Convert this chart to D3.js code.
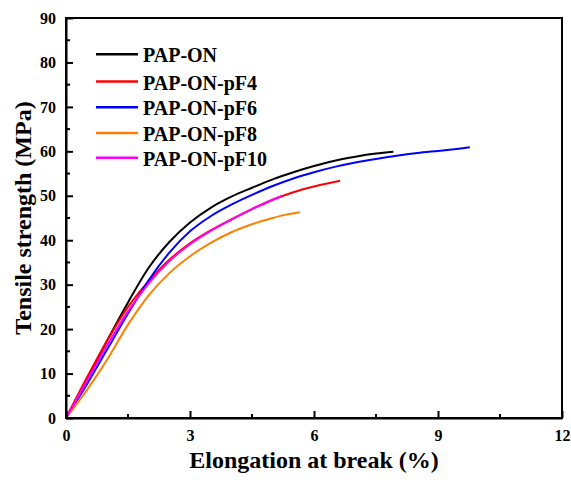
<!DOCTYPE html>
<html>
<head>
<meta charset="utf-8">
<script src="https://cdn.jsdelivr.net/npm/d3@7"></script>
<style>
  body { margin: 0; background: #fff; }
  text { font-family: "Liberation Serif", "Times New Roman", serif; font-weight: bold; fill: #000; }
</style>
</head>
<body>
<svg id="chart" width="571" height="482"></svg>
<script>
// series names and colours
var seriesNames = ["PAP-ON", "PAP-ON-pF4", "PAP-ON-pF6", "PAP-ON-pF8", "PAP-ON-pF10"];
var seriesColors = ["#000000", "#ff0000", "#0000ff", "#ff8000", "#ff00ff"];

// elongation (%) / strength (MPa)
var papOnX = [0, 0.5, 1.0, 1.5, 2.0, 2.5, 3.0, 3.5, 4.0, 4.5, 5.0, 5.5, 6.0, 6.5, 7.0, 7.5, 7.92];
var papOnY = [0, 8.5, 17.5, 26, 33.8, 39.6, 44, 47.3, 49.8, 51.8, 53.7, 55.3, 56.7, 57.9, 58.8, 59.5, 59.9];

var pF4X = [0, 0.5, 1.0, 1.5, 2.0, 2.5, 3.0, 3.5, 4.0, 4.5, 5.0, 5.5, 6.0, 6.63];
var pF4Y = [0, 9, 17.5, 25, 30.8, 35.6, 39.3, 42.2, 44.7, 47, 49.1, 50.8, 52.1, 53.4];

var pF6X = [0, 0.5, 1.0, 1.5, 2.0, 2.5, 3.0, 3.5, 4.0, 4.5, 5.0, 5.5, 6.0, 6.5, 7.0, 7.5, 8.0, 8.5, 9.0, 9.5, 9.77];
var pF6Y = [0, 7.5, 15.5, 23.5, 31, 37.2, 42, 45.4, 48, 50.2, 52.2, 53.9, 55.3, 56.5, 57.5, 58.3, 59, 59.6, 60.1, 60.6, 60.9];

var pF8X = [0, 0.5, 1.0, 1.5, 2.0, 2.5, 3.0, 3.5, 4.0, 4.5, 5.0, 5.3, 5.66];
var pF8Y = [0, 6.2, 13.2, 21, 27.6, 32.6, 36.4, 39.4, 41.8, 43.6, 45, 45.7, 46.3];

var pF10X = [0, 0.5, 1.0, 1.5, 2.0, 2.5, 3.0, 3.5, 4.0, 4.5, 5.0, 5.2];
var pF10Y = [0, 8.2, 16.4, 24, 30.3, 35.3, 39.1, 42.1, 44.6, 47, 49.1, 49.9];

var seriesX = [papOnX, pF4X, pF6X, pF8X, pF10X];
var seriesY = [papOnY, pF4Y, pF6Y, pF8Y, pF10Y];

var xTicks = [0, 3, 6, 9, 12];
var yTicks = [0, 10, 20, 30, 40, 50, 60, 70, 80, 90];

var svg = d3.select("#chart");
// note: "top" is taken by window.top, so plot edges get a prefix
var plotLeft = 66, plotRight = 562, plotTop = 18, plotBottom = 418;

var x = d3.scaleLinear().domain([0, 12]).range([plotLeft, plotRight]);
var y = d3.scaleLinear().domain([0, 90]).range([plotBottom, plotTop]);

// curves
var line = d3.line()
    .x(function (d) { return x(d[0]); })
    .y(function (d) { return y(d[1]); })
    .curve(d3.curveMonotoneX);

var plot = svg.append("g");
for (var i = 0; i < seriesNames.length; i++) {
    var pts = seriesX[i].map(function (v, j) { return [v, seriesY[i][j]]; });
    plot.append("path")
        .datum(pts)
        .attr("d", line)
        .attr("fill", "none")
        .attr("stroke", seriesColors[i])
        .attr("stroke-width", 2);
}

// frame
svg.append("rect")
    .attr("x", plotLeft).attr("y", plotTop)
    .attr("width", plotRight - plotLeft).attr("height", plotBottom - plotTop)
    .attr("fill", "none").attr("stroke", "#000").attr("stroke-width", 2);

// bottom axis, ticks pointing inwards
var xAxis = svg.append("g").attr("transform", "translate(0," + plotBottom + ")")
    .call(d3.axisBottom(x).tickValues(xTicks).tickSizeInner(-7).tickSizeOuter(0).tickPadding(12));
xAxis.append("g").selectAll("line")
    .data(d3.range(1.5, 12, 3))
    .join("line")
    .attr("x1", function (d) { return x(d); }).attr("x2", function (d) { return x(d); })
    .attr("y1", 0).attr("y2", -4)
    .attr("stroke", "#000").attr("stroke-width", 2);

// left axis
var yAxis = svg.append("g").attr("transform", "translate(" + plotLeft + ",0)")
    .call(d3.axisLeft(y).tickValues(yTicks).tickSizeInner(-7).tickSizeOuter(0).tickPadding(10));
yAxis.append("g").selectAll("line")
    .data(d3.range(5, 90, 10))
    .join("line")
    .attr("y1", function (d) { return y(d); }).attr("y2", function (d) { return y(d); })
    .attr("x1", 0).attr("x2", 4)
    .attr("stroke", "#000").attr("stroke-width", 2);

svg.selectAll(".domain").attr("stroke", "#000").attr("stroke-width", 2);
svg.selectAll(".tick line").attr("stroke", "#000").attr("stroke-width", 2);
svg.selectAll(".tick text")
    .attr("font-family", "Liberation Serif, Times New Roman, serif")
    .attr("font-weight", "bold")
    .attr("font-size", 16)
    .attr("fill", "#000");

// axis titles
svg.append("text")
    .attr("x", (plotLeft + plotRight) / 2).attr("y", 468)
    .attr("text-anchor", "middle")
    .attr("font-size", 24)
    .text("Elongation at break (%)");

svg.append("text")
    .attr("transform", "translate(31," + (plotTop + plotBottom) / 2 + ") rotate(-90)")
    .attr("text-anchor", "middle")
    .attr("font-size", 24)
    .text("Tensile strength (MPa)");

// legend
var legend = svg.append("g");
var legendY = [54.3, 81.5, 107.3, 133, 157.7];
seriesNames.forEach(function (name, i) {
    legend.append("line")
        .attr("x1", 96).attr("x2", 138)
        .attr("y1", legendY[i]).attr("y2", legendY[i])
        .attr("stroke", seriesColors[i]).attr("stroke-width", 2.5);
    legend.append("text")
        .attr("x", 143).attr("y", legendY[i] + 8)
        .attr("font-size", 20)
        .text(name);
});
</script>
</body>
</html>
